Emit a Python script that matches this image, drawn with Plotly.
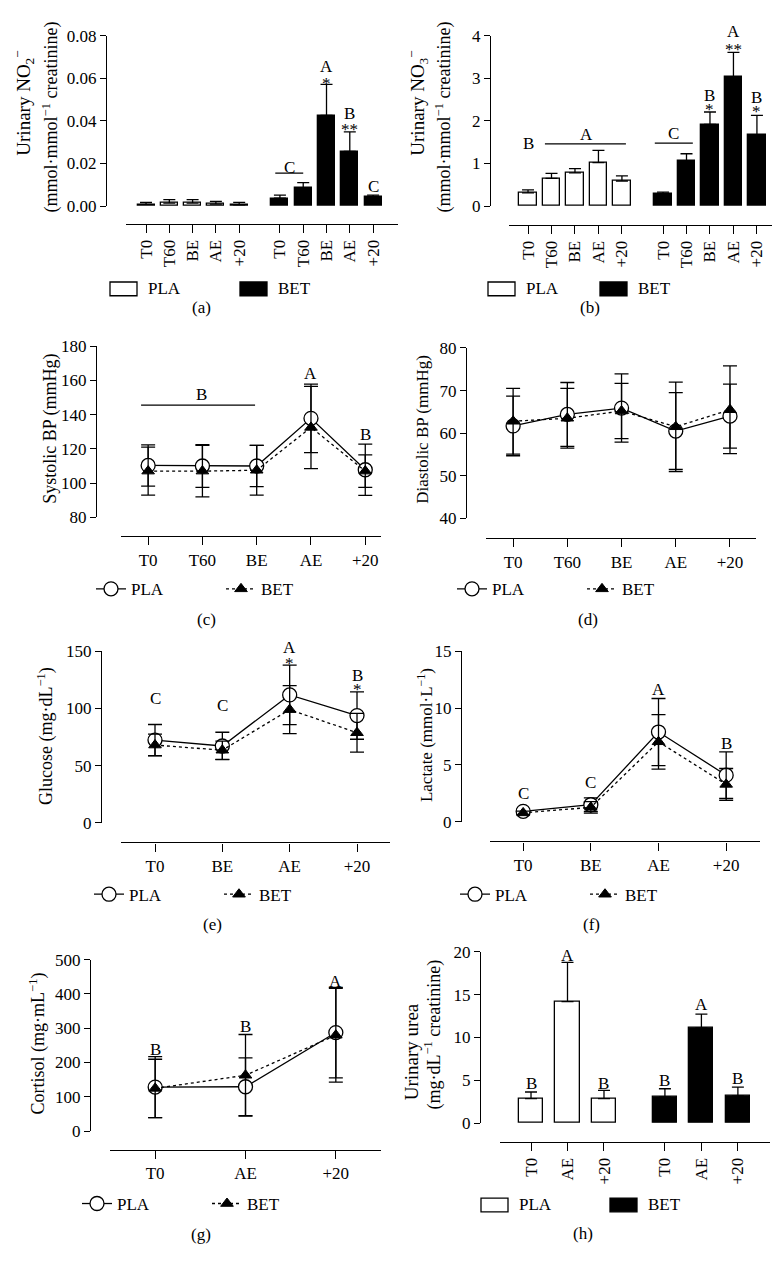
import plotly.graph_objects as go

W, H = 780, 1270
FONT = "Liberation Serif, Times New Roman, serif"

# ---------------- data ----------------
cats5 = ["T0", "T60", "BE", "AE", "+20"]
cats4 = ["T0", "BE", "AE", "+20"]
cats3 = ["T0", "AE", "+20"]

# (a) Urinary NO2-
no2_pla = [0.0008, 0.0014, 0.0014, 0.0009, 0.0006]
no2_pla_err = [0.0010, 0.0017, 0.0017, 0.0013, 0.0012]
no2_bet = [0.0037, 0.0085, 0.0426, 0.0257, 0.0042]
no2_bet_err = [0.0015, 0.0025, 0.0146, 0.0092, 0.0010]

# (b) Urinary NO3-
no3_pla = [0.31, 0.65, 0.78, 1.02, 0.59]
no3_pla_err = [0.07, 0.12, 0.10, 0.29, 0.12]
no3_bet = [0.28, 1.07, 1.92, 3.03, 1.67]
no3_bet_err = [0.05, 0.16, 0.29, 0.58, 0.46]

# (c) Systolic BP
sbp_pla = [110.3, 110.0, 110.0, 137.8, 107.8]
sbp_pla_err = [12.0, 12.5, 12.0, 20.0, 15.0]
sbp_bet = [107.0, 107.0, 107.5, 132.5, 107.0]
sbp_bet_err = [14.0, 15.0, 14.5, 24.0, 9.5]

# (d) Diastolic BP
dbp_pla = [61.7, 64.4, 65.9, 60.5, 64.0]
dbp_pla_err = [7.0, 7.5, 8.0, 9.0, 7.5]
dbp_bet = [62.8, 63.5, 65.2, 61.5, 65.5]
dbp_bet_err = [7.7, 7.0, 6.5, 10.5, 10.3]

# (e) Glucose
glu_pla = [72.4, 67.2, 111.9, 93.8]
glu_pla_err = [13.6, 12.0, 26.0, 20.7]
glu_bet = [68.0, 63.5, 99.0, 78.8]
glu_bet_err = [9.5, 8.0, 21.0, 17.0]

# (f) Lactate
lac_pla = [0.92, 1.5, 7.9, 4.1]
lac_pla_err = [0.2, 0.6, 2.95, 2.05]
lac_bet = [0.78, 1.27, 7.04, 3.29]
lac_bet_err = [0.15, 0.5, 2.4, 1.4]

# (g) Cortisol
cor_pla = [128.4, 129.3, 287.4]
cor_pla_err = [89.0, 84.0, 132.0]
cor_bet = [124.5, 162.8, 279.7]
cor_bet_err = [85.0, 119.0, 137.0]

# (h) Urinary urea
urea_pla = [2.87, 14.18, 2.87]
urea_pla_err = [0.77, 4.59, 0.96]
urea_bet = [3.07, 11.11, 3.18]
urea_bet_err = [0.95, 1.61, 1.03]

# significance labels (x in category units, y in data units, text)
no2_marks = [(6.18, 0.0183, "C"), (7.75, 0.0654, "A"), (7.75, 0.0595, "*"),
             (8.75, 0.0437, "B"), (8.75, 0.0380, "**"), (9.75, 0.0091, "C")]
no2_brackets = [(5.55, 6.75, 0.0155)]
no3_marks = [(0, 1.48, "B"), (2.47, 1.69, "A"), (6.2, 1.70, "C"),
             (7.75, 2.59, "B"), (7.75, 2.36, "*"), (8.75, 4.09, "A"),
             (8.75, 3.78, "**"), (9.75, 2.55, "B"), (9.75, 2.32, "*")]
no3_brackets = [(0.72, 4.17, 1.46), (5.4, 7.02, 1.48)]
sbp_marks = [(0.98, 151.6, "B"), (3, 163.7, "A"), (4, 128.5, "B")]
sbp_brackets = [(-0.13, 1.97, 145.5)]
glu_marks = [(0, 109, "C"), (1, 103, "C"), (2, 153, "A"), (2, 143, "*"),
             (3, 128.6, "B"), (3, 119.7, "*")]
lac_marks = [(0, 2.5, "C"), (1, 3.5, "C"), (2, 11.6, "A"), (3, 6.9, "B")]
cor_marks = [(0, 238.5, "B"), (1, 305.6, "B"), (2, 434.9, "A")]
urea_marks = [(0, 4.67, "B"), (1, 19.6, "A"), (2, 4.67, "B"),
              (3.67, 4.98, "B"), (4.67, 13.8, "A"), (5.67, 5.17, "B")]

# ---------------- figure ----------------
fig = go.Figure()
annotations = []
shapes = []
layout = {}
ymaps = {}


def px_x(p):
    return p / W


def px_y(p):
    return 1 - p / H


def axnames(n):
    return ("x" if n == 1 else f"x{n}"), ("y" if n == 1 else f"y{n}")


def text_font(size=17):
    return dict(family=FONT, size=size, color="black")


def set_axes(n, xdom, xline, xrange, tickvals, ticktext, tickangle,
             yline, ydom, yrange, dtick, yfmt):
    d0, d1 = px_y(ydom[1]), px_y(ydom[0])
    ymaps[n] = (d0, d1, yrange[0], yrange[1])
    layout["xaxis" if n == 1 else f"xaxis{n}"] = dict(
        domain=[px_x(xdom[0]), px_x(xdom[1])], anchor="free",
        position=px_y(xline), range=xrange, tickmode="array",
        tickvals=tickvals, ticktext=ticktext, tickangle=tickangle,
        showline=True, linecolor="black", linewidth=1.3, ticks="outside",
        ticklen=8, tickwidth=1.3, tickcolor="black", showgrid=False,
        zeroline=False, tickfont=text_font(17), fixedrange=True)
    layout["yaxis" if n == 1 else f"yaxis{n}"] = dict(
        domain=[d0, d1], anchor="free",
        position=px_x(yline), range=yrange, tick0=0, dtick=dtick,
        tickformat=yfmt, showline=True, linecolor="black", linewidth=1.3,
        ticks="outside", ticklen=6, tickwidth=1.3, tickcolor="black",
        showgrid=False, zeroline=False, tickfont=text_font(17),
        fixedrange=True)


def y_to_paper(n, y):
    d0, d1, r0, r1 = ymaps[n]
    return d0 + (y - r0) / (r1 - r0) * (d1 - d0)


def add_marks(n, marks, brackets=()):
    xn, yn = axnames(n)
    for x, y, s in marks:
        annotations.append(dict(x=x, y=y_to_paper(n, y), xref=xn, yref="paper",
                                text=s, showarrow=False, font=text_font(17),
                                xanchor="center", yanchor="middle",
                                yshift=-4 if "*" in s else 0))
    for x0, x1, y in brackets:
        shapes.append(dict(type="line", xref=xn, yref=yn, x0=x0, x1=x1,
                           y0=y, y1=y, line=dict(color="black", width=1.3)))


def bar_panel(n, cats, pla, pla_err, bet, bet_err, gap, width):
    xn, yn = axnames(n)
    pos_pla = list(range(len(cats)))
    pos_bet = [gap + i for i in range(len(cats))]
    for pos, vals, errs, fill in ((pos_pla, pla, pla_err, "white"),
                                  (pos_bet, bet, bet_err, "black")):
        fig.add_trace(go.Bar(
            x=pos, y=vals, width=width, xaxis=xn, yaxis=yn, showlegend=False,
            marker=dict(color=fill, line=dict(color="black", width=1.3)),
            error_y=dict(type="data", symmetric=False, array=errs,
                         arrayminus=[0] * len(errs), color="black",
                         thickness=1.3, width=6)))
    return pos_pla + pos_bet, cats + cats


def line_panel(n, cats, pla, pla_err, bet, bet_err, legend_name):
    xn, yn = axnames(n)
    xs = list(range(len(cats)))
    fig.add_trace(go.Scatter(
        x=xs, y=pla, mode="lines+markers", name="PLA", xaxis=xn, yaxis=yn,
        legend=legend_name, line=dict(color="black", width=1.3),
        marker=dict(symbol="circle", size=14, color="white",
                    line=dict(color="black", width=1.3)),
        error_y=dict(type="data", array=pla_err, color="black",
                     thickness=1.3, width=7)))
    fig.add_trace(go.Scatter(
        x=xs, y=bet, mode="lines+markers", name="BET", xaxis=xn, yaxis=yn,
        legend=legend_name, line=dict(color="black", width=1.3, dash="dot"),
        marker=dict(symbol="triangle-up", size=11, color="black",
                    line=dict(color="black", width=1)),
        error_y=dict(type="data", array=bet_err, color="black",
                     thickness=1.3, width=7)))
    return xs, cats


def bar_legend(x_pla, x_bet, yc):
    for x0, fill in ((x_pla, "white"), (x_bet, "black")):
        shapes.append(dict(type="rect", xref="paper", yref="paper",
                           x0=px_x(x0), x1=px_x(x0 + 27),
                           y0=px_y(yc + 7), y1=px_y(yc - 7),
                           line=dict(color="black", width=1.3),
                           fillcolor=fill))
    for x0, s in ((x_pla, "PLA"), (x_bet, "BET")):
        annotations.append(dict(x=px_x(x0 + 36), y=px_y(yc), xref="paper",
                                yref="paper", text=s, showarrow=False,
                                font=text_font(17), xanchor="left",
                                yanchor="middle"))


def line_legend(name, x0, yc):
    layout[name] = dict(x=px_x(x0), y=px_y(yc), xanchor="left",
                        yanchor="middle", orientation="h",
                        font=text_font(17), bgcolor="rgba(0,0,0,0)",
                        itemwidth=30, entrywidth=85, tracegroupgap=0,
                        itemclick=False, itemdoubleclick=False)


def caption(s, x, y):
    annotations.append(dict(x=px_x(x), y=px_y(y), xref="paper", yref="paper",
                            text=s, showarrow=False, font=text_font(17),
                            xanchor="center", yanchor="middle"))


def ytitle(s, x, y, size=17):
    annotations.append(dict(x=px_x(x), y=px_y(y), xref="paper", yref="paper",
                            text=s, showarrow=False, font=text_font(size),
                            textangle=-90, xanchor="center", yanchor="middle"))


GAP5 = 5.75
GAP3 = 3.67

# (a)
tv, tt = bar_panel(1, cats5, no2_pla, no2_pla_err, no2_bet, no2_bet_err, GAP5, 0.73)
set_axes(1, (118, 390), 210, [-0.86, 10.82], tv, tt, -90,
         98, (19, 192), [0, 0.08], 0.02, ".2f")
add_marks(1, no2_marks, no2_brackets)
bar_legend(102, 232, 276)
caption("(a)", 193, 295)
ytitle("Urinary NO<sub>2</sub><sup>−</sup>", 16, 88, 19)
ytitle("(mmol·mmol<sup>−1</sup> creatinine)", 43, 102, 18)

# (b)
tv, tt = bar_panel(2, cats5, no3_pla, no3_pla_err, no3_bet, no3_bet_err, GAP5, 0.73)
set_axes(2, (501, 771), 211, [-0.81, 10.69], tv, tt, -90,
         482, (19, 192), [0, 4], 1, "d")
add_marks(2, no3_marks, no3_brackets)
bar_legend(480, 592, 276)
caption("(b)", 582, 295)
ytitle("Urinary NO<sub>3</sub><sup>−</sup>", 410, 88, 19)
ytitle("(mmol·mmol<sup>−1</sup> creatinine)", 436, 102, 18)

# (c)
tv, tt = line_panel(3, cats5, sbp_pla, sbp_pla_err, sbp_bet, sbp_bet_err, "legend")
set_axes(3, (113, 373), 527, [-0.5, 4.29], tv, tt, 0,
         88, (334, 508), [80, 180], 20, "d")
add_marks(3, sbp_marks, sbp_brackets)
line_legend("legend", 83, 581)
caption("(c)", 198, 612)
ytitle("Systolic BP (mmHg)", 43, 418, 18)

# (d)
tv, tt = line_panel(4, cats5, dbp_pla, dbp_pla_err, dbp_bet, dbp_bet_err, "legend2")
set_axes(4, (478, 748), 529, [-0.5, 4.48], tv, tt, 0,
         458, (336, 509), [40, 80], 10, "d")
line_legend("legend2", 444, 581)
caption("(d)", 580, 612)
ytitle("Diastolic BP (mmHg)", 415, 419)

# (e)
tv, tt = line_panel(5, cats4, glu_pla, glu_pla_err, glu_bet, glu_bet_err, "legend3")
set_axes(5, (113, 382), 838, [-0.505, 3.49], tv, tt, 0,
         93, (644, 818), [0, 150], 50, "d")
add_marks(5, glu_marks)
line_legend("legend3", 81, 891)
caption("(e)", 204, 921)
ytitle("Glucose (mg·dL<sup>−1</sup>)", 38, 730, 18)

# (f)
tv, tt = line_panel(6, cats4, lac_pla, lac_pla_err, lac_bet, lac_bet_err, "legend4")
set_axes(6, (482, 752), 837, [-0.49, 3.5], tv, tt, 0,
         453, (644, 817), [0, 15], 5, "d")
add_marks(6, lac_marks)
line_legend("legend4", 447, 891)
caption("(f)", 583, 921)
ytitle("Lactate (mmol·L<sup>−1</sup>)", 417, 729)

# (g)
tv, tt = line_panel(7, cats3, cor_pla, cor_pla_err, cor_bet, cor_bet_err, "legend5")
set_axes(7, (102, 373), 1150, [-0.5, 2.5], tv, tt, 0,
         82, (957, 1131), [0, 500], 100, "d")
add_marks(7, cor_marks)
line_legend("legend5", 69, 1205)
caption("(g)", 193, 1236)
ytitle("Cortisol (mg·mL<sup>−1</sup>)", 30, 1042, 18)

# (h)
tv, tt = bar_panel(8, cats3, urea_pla, urea_pla_err, urea_bet, urea_bet_err, GAP3, 0.66)
set_axes(8, (492, 762), 1142, [-0.85, 6.55], tv, tt, -90,
         472, (949, 1123), [0, 20], 5, "d")
add_marks(8, urea_marks)
bar_legend(473, 602, 1206)
caption("(h)", 575, 1235)
ytitle("Urinary urea", 403, 1051, 19)
ytitle("(mg·dL<sup>−1</sup> creatinine)", 425, 1033, 18)

fig.update_layout(
    width=W, height=H, margin=dict(l=0, r=0, t=0, b=0, pad=0),
    paper_bgcolor="white", plot_bgcolor="white",
    font=text_font(17), showlegend=True, bargap=0,
    annotations=annotations, shapes=shapes, **layout)

fig.write_html("out.html")
